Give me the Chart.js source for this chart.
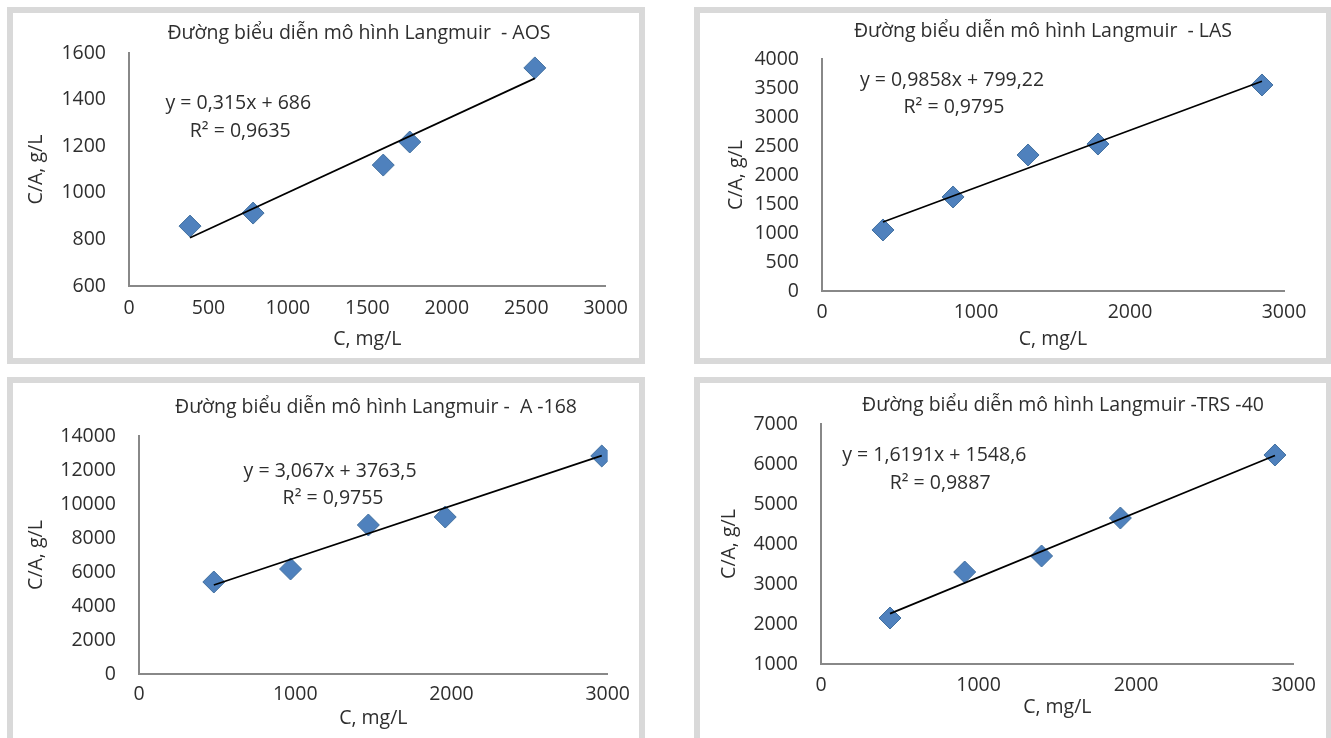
<!DOCTYPE html>
<html>
<head>
<meta charset="utf-8">
<title>Langmuir</title>
<script src="https://cdn.jsdelivr.net/npm/chart.js@4.4.1/dist/chart.umd.min.js"></script>
<style>
  html, body { margin: 0; padding: 0; background: #fff; overflow: hidden; width: 1331px; height: 738px; }
  .panel { position: absolute; box-sizing: border-box; border: 6px solid #d9d9d9; background: #fff; width: 638px; }
  .panel canvas { position: absolute; left: 0; top: 0; }
  #p1 { left: 7px; top: 7px; height: 357px; }
  #p2 { left: 694px; top: 7px; height: 357px; }
  #p3 { left: 7px; top: 377px; height: 420px; }
  #p4 { left: 694px; top: 377px; height: 420px; }
</style>
</head>
<body>
<div class="panel" id="p1"><canvas id="c1" width="626" height="345"></canvas></div>
<div class="panel" id="p2"><canvas id="c2" width="626" height="345"></canvas></div>
<div class="panel" id="p3"><canvas id="c3" width="626" height="355"></canvas></div>
<div class="panel" id="p4"><canvas id="c4" width="626" height="355"></canvas></div>
<script>
// values (C in mg/L, C/A in g/L)
const aosC = [384, 781, 1600, 1767, 2554]
const aosCA = [857, 913, 1119, 1218, 1536]
const aosFitC = [384, 2554]
const aosFitCA = [807, 1491]

const lasC = [396, 851, 1338, 1792, 2857]
const lasCA = [1052, 1621, 2345, 2534, 3552]
const lasFitC = [396, 2857]
const lasFitCA = [1190, 3616]

const a168C = [479, 970, 1468, 1960, 2962]
const a168CA = [5412, 6176, 8765, 9235, 12824]
const a168FitC = [479, 2962]
const a168FitCA = [5233, 12848]

const trsC = [438, 912, 1400, 1900, 2881]
const trsCA = [2150, 3300, 3700, 4650, 6225]
const trsFitC = [438, 2881]
const trsFitCA = [2258, 6213]

// axis ranges: [min, max, step]
const xRangeAos = [0, 3000, 500]
const xRangeOther = [0, 3000, 1000]
const yRangeAos = [600, 1600, 200]
const yRangeLas = [0, 4000, 500]
const yRangeA168 = [0, 14000, 2000]
const yRangeTrs = [1000, 7000, 1000]

const titleAos = 'Đường biểu diễn mô hình Langmuir  - AOS'
const titleLas = 'Đường biểu diễn mô hình Langmuir  - LAS'
const titleA168 = 'Đường biểu diễn mô hình Langmuir -  A -168'
const titleTrs = 'Đường biểu diễn mô hình Langmuir -TRS -40'

const eqAos = ['y = 0,315x + 686', 'R² = 0,9635']
const eqLas = ['y = 0,9858x + 799,22', 'R² = 0,9795']
const eqA168 = ['y = 3,067x + 3763,5', 'R² = 0,9755']
const eqTrs = ['y = 1,6191x + 1548,6', 'R² = 0,9887']

const xTitle = 'C, mg/L'
const yTitle = 'C/A, g/L'

const FONT = "'Open Sans', 'Liberation Sans', sans-serif"
const FSIZE = 19.5
const TEXT = '#2e2e2e'

const zip = (xs, ys) => xs.map((x, i) => ({ x, y: ys[i] }))

// draws the chart title and the trendline equation
function notes (title, tx, ty, lines) {
  return {
    id: 'notes',
    afterDraw (chart) {
      const ctx = chart.ctx
      const sx = chart.scales.x
      const sy = chart.scales.y
      ctx.save()
      ctx.fillStyle = TEXT
      ctx.font = FSIZE + 'px ' + FONT
      ctx.textAlign = 'center'
      ctx.textBaseline = 'middle'
      ctx.fillText(title, tx, ty)
      lines.forEach(l => {
        ctx.fillText(l.text, sx.getPixelForValue(l.at[0]), sy.getPixelForValue(l.at[1]))
      })
      ctx.restore()
    }
  }
}

function makeChart (id, c) {
  const font = { family: FONT, size: FSIZE }
  new Chart(document.getElementById(id), {
    type: 'scatter',
    data: {
      datasets: [
        {
          data: zip(c.fitX, c.fitY),
          showLine: true,
          borderColor: '#000',
          borderWidth: 1.75,
          pointRadius: 0
        },
        {
          data: zip(c.xs, c.ys),
          pointStyle: 'rectRot',
          pointRadius: 11,
          pointHoverRadius: 11,
          backgroundColor: '#4f81bd',
          borderColor: '#42709f',
          borderWidth: 1
        }
      ]
    },
    options: {
      responsive: false,
      animation: false,
      events: [],
      layout: { padding: { top: c.top, right: c.right, left: 0, bottom: 0 } },
      plugins: { legend: { display: false }, tooltip: { enabled: false } },
      scales: {
        x: {
          min: c.xr[0], max: c.xr[1],
          afterFit: s => { s.height = c.xh },
          grid: { display: false, drawTicks: false },
          border: { display: true, color: '#888', width: 2 },
          ticks: { stepSize: c.xr[2], padding: c.xpad, color: TEXT, font, callback: v => String(v) },
          title: { display: true, text: xTitle, color: TEXT, font, padding: { top: 0, bottom: c.xtpad } }
        },
        y: {
          min: c.yr[0], max: c.yr[1],
          afterFit: s => { s.width = c.yw },
          grid: { display: false, drawTicks: false },
          border: { display: true, color: '#888', width: 2 },
          ticks: { stepSize: c.yr[2], padding: 23, color: TEXT, font, callback: v => String(v) },
          title: { display: true, text: yTitle, color: TEXT, font, padding: { top: c.ytpad, bottom: 0 } }
        }
      }
    },
    plugins: [notes(c.title, c.tx, c.ty, c.lines)]
  })
}

makeChart('c1', {
  xs: aosC, ys: aosCA, fitX: aosFitC, fitY: aosFitCA,
  xr: xRangeAos, yr: yRangeAos,
  top: 40, right: 26, xh: 72, yw: 116, xpad: 11, xtpad: 7, ytpad: 12,
  title: titleAos, tx: 346, ty: 20,
  lines: [{ text: eqAos[0], at: [688, 1385] }, { text: eqAos[1], at: [700, 1265] }]
})

makeChart('c2', {
  xs: lasC, ys: lasCA, fitX: lasFitC, fitY: lasFitCA,
  xr: xRangeOther, yr: yRangeLas,
  top: 46, right: 42, xh: 67, yw: 122, xpad: 10, xtpad: 7, ytpad: 25,
  title: titleLas, tx: 343, ty: 18,
  lines: [{ text: eqLas[0], at: [844, 3638] }, { text: eqLas[1], at: [857, 3172] }]
})

makeChart('c3', {
  xs: a168C, ys: a168CA, fitX: a168FitC, fitY: a168FitCA,
  xr: xRangeOther, yr: yRangeA168,
  top: 53, right: 24, xh: 64, yw: 126, xpad: 9, xtpad: 8, ytpad: 12,
  title: titleA168, tx: 363, ty: 24,
  lines: [{ text: eqA168[0], at: [1223, 11941] }, { text: eqA168[1], at: [1242, 10353] }]
})

makeChart('c4', {
  xs: trsC, ys: trsCA, fitX: trsFitC, fitY: trsFitCA,
  xr: xRangeOther, yr: yRangeTrs,
  top: 41, right: 25, xh: 74, yw: 121, xpad: 10, xtpad: 19, ytpad: 18,
  title: titleTrs, tx: 363, ty: 22,
  lines: [{ text: eqTrs[0], at: [719, 6225] }, { text: eqTrs[1], at: [756, 5525] }]
})
</script>
</body>
</html>
